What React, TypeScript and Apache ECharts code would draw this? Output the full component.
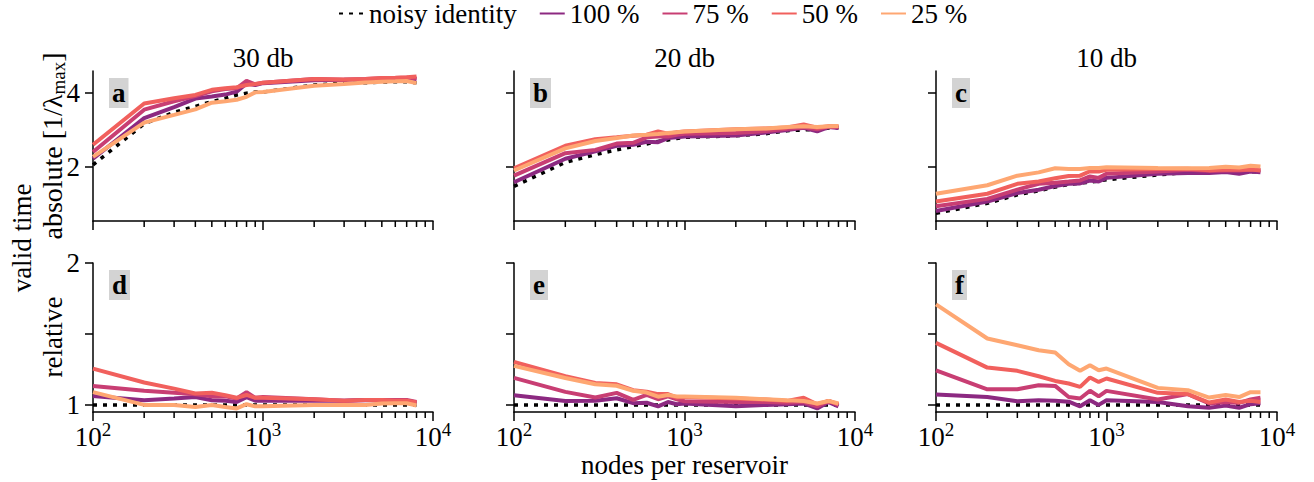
import React, { useEffect, useRef } from "react";
import * as echarts from "echarts";

const FONT_CSS = '"Liberation Serif", serif';

const nodes = [100, 200, 300, 400, 500, 600, 700, 800, 900, 1000, 2000, 3000, 4000, 5000, 6000, 7000, 8000];
const seriesNames = ["noisy identity", "100 %", "75 %", "50 %", "25 %"];
const seriesColors = ["#000000", "#8c2981", "#c83e73", "#f1605d", "#fea772"];
const columnTitles = ["30 db", "20 db", "10 db"];
const panelLetters = ["a", "b", "c", "d", "e", "f"];
const majorXTicks = [100, 1000, 10000];
const minorXTicks = [200, 300, 400, 500, 600, 700, 800, 900, 2000, 3000, 4000, 5000, 6000, 7000, 8000, 9000];
const absTicks = [2, 4];
const relTicks = [1, 1.5, 2];
const relTickLabels = [1, 2];

// absolute, 30 db
const absNoisy30 = [2.05, 3.17, 3.48, 3.64, 3.77, 3.86, 3.95, 4.0, 4.03, 4.03, 4.22, 4.27, 4.28, 4.3, 4.31, 4.31, 4.28];
const abs100_30 = [2.22, 3.32, 3.62, 3.85, 3.91, 3.96, 4.04, 4.26, 4.22, 4.27, 4.35, 4.36, 4.37, 4.39, 4.4, 4.41, 4.38];
const abs75_30 = [2.4, 3.55, 3.78, 3.92, 4.05, 4.11, 4.13, 4.33, 4.24, 4.28, 4.38, 4.36, 4.38, 4.4, 4.41, 4.42, 4.4];
const abs50_30 = [2.6, 3.72, 3.86, 3.95, 4.09, 4.13, 4.16, 4.22, 4.25, 4.28, 4.38, 4.37, 4.38, 4.41, 4.42, 4.43, 4.45];
const abs25_30 = [2.27, 3.2, 3.41, 3.56, 3.74, 3.78, 3.82, 3.9, 4.02, 4.03, 4.2, 4.25, 4.29, 4.31, 4.32, 4.33, 4.27];

// absolute, 20 db
const absNoisy20 = [1.47, 2.12, 2.33, 2.46, 2.55, 2.62, 2.69, 2.73, 2.77, 2.8, 2.84, 2.9, 2.98, 3.0, 3.02, 3.05, 3.06];
const abs100_20 = [1.58, 2.22, 2.42, 2.57, 2.6, 2.68, 2.67, 2.78, 2.8, 2.82, 2.85, 2.93, 3.0, 3.06, 2.96, 3.08, 3.05];
const abs75_20 = [1.76, 2.37, 2.46, 2.63, 2.65, 2.8, 2.82, 2.82, 2.87, 2.9, 2.92, 2.97, 3.03, 3.07, 3.02, 3.09, 3.08];
const abs50_20 = [1.96, 2.57, 2.75, 2.8, 2.84, 2.87, 2.96, 2.9, 2.94, 2.96, 3.02, 3.04, 3.07, 3.15, 3.06, 3.1, 3.1];
const abs25_20 = [1.9, 2.5, 2.7, 2.78, 2.85, 2.87, 2.89, 2.92, 2.94, 2.96, 3.02, 3.04, 3.08, 3.1, 3.08, 3.1, 3.11];

// absolute, 10 db
const absNoisy10 = [0.74, 1.01, 1.24, 1.35, 1.45, 1.52, 1.56, 1.58, 1.62, 1.65, 1.78, 1.85, 1.87, 1.87, 1.88, 1.87, 1.86];
const abs100_10 = [0.8, 1.06, 1.29, 1.38, 1.48, 1.54, 1.55, 1.63, 1.6, 1.7, 1.81, 1.83, 1.83, 1.86, 1.81, 1.87, 1.85];
const abs75_10 = [0.93, 1.13, 1.38, 1.54, 1.57, 1.6, 1.63, 1.74, 1.7, 1.81, 1.87, 1.92, 1.89, 1.9, 1.9, 1.93, 1.91];
const abs50_10 = [1.06, 1.27, 1.54, 1.6, 1.69, 1.75, 1.76, 1.88, 1.87, 1.92, 1.94, 1.95, 1.91, 1.93, 1.92, 1.93, 1.9];
const abs25_10 = [1.27, 1.5, 1.76, 1.85, 1.96, 1.94, 1.94, 1.97, 1.97, 1.99, 1.97, 1.96, 1.97, 2.0, 1.98, 2.03, 2.01];

// relative
const relNoisy = [1, 1, 1, 1, 1, 1, 1, 1, 1, 1, 1, 1, 1, 1, 1, 1, 1];
const rel100_30 = [1.063, 1.033, 1.045, 1.055, 1.033, 1.03, 1.02, 1.055, 1.03, 1.03, 1.03, 1.03, 1.035, 1.03, 1.03, 1.03, 1.012];
const rel75_30 = [1.134, 1.1, 1.085, 1.075, 1.06, 1.06, 1.045, 1.09, 1.05, 1.055, 1.04, 1.03, 1.035, 1.035, 1.035, 1.035, 1.02];
const rel50_30 = [1.256, 1.158, 1.115, 1.08, 1.085, 1.068, 1.05, 1.07, 1.05, 1.05, 1.04, 1.03, 1.035, 1.035, 1.03, 1.03, 1.017];
const rel25_30 = [1.09, 1.0, 1.0, 0.985, 1.0, 0.985, 0.975, 1.005, 0.99, 0.99, 1.0, 1.0, 1.0, 1.01, 1.012, 1.012, 0.996];

const rel100_20 = [1.068, 1.028, 1.03, 1.047, 1.012, 1.015, 0.99, 1.02, 1.005, 1.01, 0.99, 1.0, 1.005, 1.01, 0.975, 1.02, 0.99];
const rel75_20 = [1.19, 1.092, 1.052, 1.085, 1.035, 1.07, 1.04, 1.06, 1.04, 1.026, 1.02, 1.02, 1.016, 1.02, 0.99, 1.028, 1.0];
const rel50_20 = [1.303, 1.202, 1.155, 1.145, 1.104, 1.093, 1.076, 1.076, 1.052, 1.055, 1.045, 1.038, 1.028, 1.05, 1.005, 1.028, 1.005];
const rel25_20 = [1.275, 1.19, 1.145, 1.135, 1.1, 1.087, 1.058, 1.07, 1.06, 1.06, 1.05, 1.04, 1.033, 1.028, 1.01, 1.028, 1.01];

const rel100_10 = [1.073, 1.056, 1.026, 1.033, 1.03, 1.023, 0.99, 1.033, 1.0, 1.033, 1.02, 0.99, 0.98, 0.995, 0.98, 1.005, 1.012];
const rel75_10 = [1.244, 1.11, 1.11, 1.139, 1.134, 1.056, 1.045, 1.1, 1.06, 1.099, 1.038, 1.076, 1.01, 1.02, 1.014, 1.038, 1.05];
const rel50_10 = [1.437, 1.263, 1.24, 1.202, 1.169, 1.151, 1.127, 1.193, 1.162, 1.186, 1.085, 1.076, 1.017, 1.038, 1.02, 1.03, 1.02];
const rel25_10 = [1.709, 1.468, 1.42, 1.385, 1.369, 1.287, 1.24, 1.28, 1.244, 1.256, 1.12, 1.104, 1.052, 1.07, 1.055, 1.09, 1.09];

const panelData = [
  [absNoisy30, abs100_30, abs75_30, abs50_30, abs25_30],
  [absNoisy20, abs100_20, abs75_20, abs50_20, abs25_20],
  [absNoisy10, abs100_10, abs75_10, abs50_10, abs25_10],
  [relNoisy, rel100_30, rel75_30, rel50_30, rel25_30],
  [relNoisy, rel100_20, rel75_20, rel50_20, rel25_20],
  [relNoisy, rel100_10, rel75_10, rel50_10, rel25_10],
];

const COL_LEFT = [93, 514, 936];
const COL_WIDTH = [340, 341, 341];
const ROW_TOP = [71, 263];
const ROW_HEIGHT = [150, 149];
const ROW_MIN = [0.53, 0.95];
const ROW_MAX = [4.6, 2];

function buildGraphic(): any[] {
  const graphic: any[] = [];
  for (let p = 0; p < 6; p++) {
    const row = Math.floor(p / 3);
    const col = p % 3;
    graphic.push({
      type: "text",
      id: "letter" + p,
      x: COL_LEFT[col] + 16,
      y: ROW_TOP[row] + 7,
      style: {
        text: panelLetters[p],
        font: `bold 27px ${FONT_CSS}`,
        fill: "#000",
        backgroundColor: "#d3d3d3",
        padding: [1, 3, 1, 3],
        lineHeight: 28,
        verticalAlign: "top",
      },
    });
  }
  columnTitles.forEach((t, c) => {
    graphic.push({
      type: "text",
      id: "title" + c,
      x: COL_LEFT[c] + COL_WIDTH[c] / 2,
      y: 58,
      style: { text: t, font: `27px ${FONT_CSS}`, fill: "#000", align: "center", verticalAlign: "middle" },
    });
  });
  graphic.push({
    type: "text",
    id: "xname",
    x: COL_LEFT[1] + COL_WIDTH[1] / 2,
    y: 465,
    style: { text: "nodes per reservoir", font: `27px ${FONT_CSS}`, fill: "#000", align: "center", verticalAlign: "middle" },
  });
  graphic.push({
    type: "text",
    id: "ylabel",
    x: 22,
    y: 238,
    rotation: Math.PI / 2,
    style: { text: "valid time", font: `27px ${FONT_CSS}`, fill: "#000", align: "center", verticalAlign: "middle" },
  });
  graphic.push({
    type: "text",
    id: "yrel",
    x: 53,
    y: 337,
    rotation: Math.PI / 2,
    style: { text: "relative", font: `27px ${FONT_CSS}`, fill: "#000", align: "center", verticalAlign: "middle" },
  });
  graphic.push({
    type: "text",
    id: "yabs",
    x: 53,
    y: 146,
    rotation: Math.PI / 2,
    style: {
      text: "{a|absolute [1/λ}{s|max}{a|]}",
      align: "center",
      verticalAlign: "middle",
      rich: {
        a: { fontFamily: FONT_CSS, fontSize: 28, fill: "#000", lineHeight: 30, verticalAlign: "top" },
        s: { fontFamily: FONT_CSS, fontSize: 19, fill: "#000", lineHeight: 19, verticalAlign: "bottom" },
      },
    },
  });
  return graphic;
}

function buildOption() {
  const axisLineStyle = { color: "#000", width: 1.5 };
  const grid: any[] = [];
  const xAxis: any[] = [];
  const yAxis: any[] = [];
  const series: any[] = [];

  for (let p = 0; p < 6; p++) {
    const row = Math.floor(p / 3);
    const col = p % 3;
    grid.push({
      left: COL_LEFT[col],
      top: ROW_TOP[row],
      width: COL_WIDTH[col],
      height: ROW_HEIGHT[row],
    });
    xAxis.push({
      type: "log",
      logBase: 10,
      gridIndex: p,
      min: 100,
      max: 10000,
      axisLine: { onZero: false, lineStyle: axisLineStyle },
      axisTick: { length: 9, lineStyle: axisLineStyle, customValues: majorXTicks },
      splitLine: { show: false },
      axisLabel: {
        show: row === 1,
        customValues: majorXTicks,
        margin: 8,
        formatter: (v: number) => `{b|10}{p|${Math.round(Math.log10(v))}}`,
        rich: {
          b: { fontFamily: FONT_CSS, fontSize: 27, color: "#000", lineHeight: 30, verticalAlign: "bottom" },
          p: { fontFamily: FONT_CSS, fontSize: 19, color: "#000", lineHeight: 19, verticalAlign: "top" },
        },
      },
    });
    yAxis.push({
      type: "value",
      gridIndex: p,
      min: ROW_MIN[row],
      max: ROW_MAX[row],
      axisLine: { show: true, onZero: false, lineStyle: axisLineStyle },
      axisTick: { show: true, length: 8, lineStyle: axisLineStyle, customValues: row === 0 ? absTicks : relTicks },
      splitLine: { show: false },
      axisLabel: {
        show: col === 0,
        customValues: row === 0 ? absTicks : relTickLabels,
        margin: 13,
        fontFamily: FONT_CSS,
        fontSize: 27,
        color: "#000",
      },
    });
    panelData[p].forEach((vals, s) => {
      series.push({
        type: "line",
        name: seriesNames[s],
        xAxisIndex: p,
        yAxisIndex: p,
        symbol: "none",
        showSymbol: false,
        data: nodes.map((n, k) => [n, vals[k]]),
        color: seriesColors[s],
        lineStyle:
          s === 0
            ? { color: "#000", width: 3.5, type: [4, 6], cap: "butt" }
            : { color: seriesColors[s], width: 4 },
        z: 2 + s,
      });
    });
  }

  return {
    animation: false,
    backgroundColor: "#ffffff",
    legend: {
      left: 338,
      top: 0,
      padding: 0,
      itemWidth: 25,
      itemHeight: 12,
      itemGap: 22,
      data: seriesNames,
      itemStyle: { opacity: 0, borderWidth: 0 },
      textStyle: { fontFamily: FONT_CSS, fontSize: 27, color: "#000" },
    },
    grid,
    xAxis,
    yAxis,
    series,
    graphic: buildGraphic(),
  };
}

// minor log ticks, positioned through the chart's own axes (convertToPixel)
function minorTickGraphic(chart: any): any[] {
  const out: any[] = [];
  for (let p = 0; p < 6; p++) {
    const row = Math.floor(p / 3);
    minorXTicks.forEach((v, i) => {
      const pt = chart.convertToPixel({ xAxisIndex: p, yAxisIndex: p }, [v, ROW_MIN[row]]) as any;
      if (!pt) return;
      out.push({
        type: "line",
        id: `minor-${p}-${i}`,
        shape: { x1: pt[0], y1: pt[1], x2: pt[0], y2: pt[1] + 6 },
        style: { stroke: "#000", lineWidth: 1.5 },
      });
    });
  }
  return out;
}

export default function App() {
  const ref = useRef<HTMLDivElement>(null);
  useEffect(() => {
    if (!ref.current) return;
    const chart = echarts.init(ref.current, null, { renderer: "svg" });
    chart.setOption(buildOption() as any);
    chart.setOption({ graphic: minorTickGraphic(chart) } as any);
    return () => chart.dispose();
  }, []);
  return (
    <div
      ref={ref}
      style={{ position: "fixed", left: 0, top: 0, width: 1314, height: 482, background: "#fff" }}
    />
  );
}
